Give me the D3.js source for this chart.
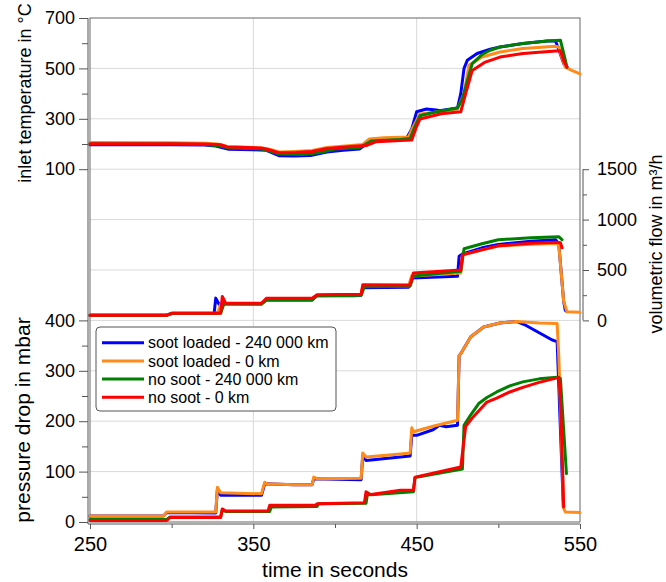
<!DOCTYPE html>
<html><head><meta charset="utf-8">
<script src="https://cdn.jsdelivr.net/npm/d3@7"></script>
<style>
html,body{margin:0;padding:0;background:#fff;}
svg{display:block;font-family:Arial,"Liberation Sans",sans-serif;}
</style></head>
<body><svg id="c" width="666" height="582"></svg>
<script>
// ---------------- data ----------------
const seriesNames = ["soot loaded - 240 000 km", "soot loaded - 0 km", "no soot - 240 000 km", "no soot - 0 km"];
const xTicksMajor = [250, 350, 450, 550];
const xTicksMinor = [300, 400, 500];
const tempTicksMajor = [100, 300, 500, 700];
const tempTicksMinor = [200, 400, 600];
const flowTicksMajor = [0, 500, 1000, 1500];
const flowTicksMinor = [250, 750, 1250];
const presTicksMajor = [0, 100, 200, 300, 400];
const presTicksMinor = [50, 150, 250, 350];

// inlet temperature [time s, °C]
const tempSoot240 = [[250,197],[300,197],[320,196],[327,192],[335,179],[350,177],[358,175],[366,153],[375,152],[385,154],[395,168],[405,175],[415,180],[419,200],[421,212],[430,220],[444,225],[447,260],[450,328],[456,339],[462,335],[464,332],[475,343],[477,400],[479,500],[481,532],[487,559],[495,576],[501,585],[515,599],[530,609],[535,609],[537,575],[540,519],[542,505]];
const tempSoot0 = [[250,206],[300,205],[320,203],[328,200],[334,190],[350,186],[358,182],[366,168],[375,170],[386,174],[395,186],[410,194],[417,198],[421,220],[430,225],[445,228],[448,270],[452,319],[460,325],[475,339],[479,400],[482,512],[490,545],[501,565],[515,579],[535,588],[537,585],[539,540],[541,505],[545,492],[550,478]];
const tempNoSoot240 = [[250,200],[300,200],[320,198],[329,193],[335,184],[355,180],[360,172],[366,160],[380,158],[390,165],[400,180],[415,186],[419,200],[422,212],[440,218],[446,222],[449,270],[452,312],[460,325],[475,343],[478,380],[481,450],[484,519],[490,555],[495,572],[501,585],[515,599],[530,609],[538,612],[540,560],[542,505]];
const tempNoSoot0 = [[250,201],[300,201],[320,200],[330,197],[334,188],[355,184],[360,176],[366,165],[376,166],[386,170],[395,182],[410,190],[419,194],[425,209],[440,214],[447,216],[450,270],[452,299],[465,320],[477,328],[480,400],[484,492],[492,525],[501,545],[515,559],[535,569],[538,570],[540,530],[542,505]];

// volumetric flow [time s, m³/h]
const flowSoot240 = [[250,50],[296,50],[300,68],[326,70],[327,221],[329,160],[355,160],[358,205],[386,205],[389,245],[412,245],[416,250],[417,325],[445,330],[447,420],[475,437],[476,637],[478,660],[490,720],[500,754],[520,785],[535,800],[537,760],[540,187],[541,100],[542,87]];
const flowSoot0 = [[250,50],[296,50],[300,70],[328,70],[330,160],[355,162],[358,210],[386,210],[389,250],[416,255],[417,340],[445,342],[447,444],[448,440],[477,470],[478,650],[490,700],[500,737],[520,755],[535,764],[537,750],[540,190],[542,87],[550,80]];
const flowNoSoot240 = [[250,50],[297,50],[300,70],[330,70],[332,165],[355,165],[358,200],[386,200],[389,245],[416,250],[418,335],[446,340],[448,440],[477,487],[479,711],[490,760],[500,800],[520,820],[537,831],[539,800]];
const flowNoSoot0 = [[250,50],[297,50],[300,70],[330,70],[331,237],[333,170],[355,170],[358,220],[386,220],[389,255],[416,260],[417,354],[446,350],[448,471],[477,500],[478,650],[490,700],[500,740],[520,765],[536,775],[538,771],[539,720]];

// pressure drop [time s, mbar]
const presSoot240 = [[250,12],[295,12],[297,19],[327,18],[328,65],[330,53],[355,53],[357,76],[375,74],[386,74],[387,86],[416,84],[417,132],[419,122],[440,129],[446,131],[447,172],[450,172],[460,183],[464,192],[468,189],[475,192],[476,330],[477,334],[483,367],[491,387],[501,395],[511,398],[517,390],[533,361],[536,358],[539.8,30]];
const presSoot0 = [[250,12],[295,12],[297,20],[327,20],[328,69],[330,58],[355,56],[357,79],[358,76],[375,74],[386,74],[387,89],[389,86],[416,87],[417,137],[419,129],[440,135],[446,137],[447,187],[448,179],[460,190],[475,202],[476,330],[477,334],[483,367],[491,387],[501,395],[511,398],[525,395],[536,394],[537,330],[540,27],[541,20],[550,19]];
const presNoSoot240 = [[250,5],[297,5],[299,10],[330,10],[331,24],[333,21],[360,21],[361,30],[389,31],[390,36],[419,37],[420,58],[422,54],[448,60],[449,88],[478,105],[479,192],[483,212],[488,235],[493,247],[499,258],[507,270],[515,278],[525,284],[536,287],[538,285],[541.7,96]];
const presNoSoot0 = [[250,3],[297,3],[299,9],[330,9],[331,26],[333,22],[359,22],[360,33],[388,33],[389,36],[418,38],[419,60],[421,54],[440,63],[448,63],[449,89],[477,109],[480,190],[485,210],[493,238],[499,246],[507,258],[515,267],[525,277],[536,286],[537,287],[538,250],[540,30]];

const tempData = [tempSoot240, tempSoot0, tempNoSoot240, tempNoSoot0];
const flowData = [flowSoot240, flowSoot0, flowNoSoot240, flowNoSoot0];
const presData = [presSoot240, presSoot0, presNoSoot240, presNoSoot0];

// ---------------- drawing ----------------
const colors = ["#0000ff", "#ff8c1a", "#008000", "#ff0000"];
const L = 90, R = 580, T = 18, B = 522;
const svg = d3.select("#c");

const x = d3.scaleLinear().domain([250, 550]).range([L, R]);
const yT = d3.scaleLinear().domain([-1300, 700]).range([B, T]);
const yF = d3.scaleLinear().domain([-2000, 3000]).range([B, T]);
const yP = d3.scaleLinear().domain([0, 1000]).range([B, T]);

// grid
const grid = svg.append("g").attr("stroke", "#d9d9d9").attr("stroke-width", 1);
d3.range(100, 1000, 100).forEach(v => {
  grid.append("line").attr("x1", L).attr("x2", R).attr("y1", yP(v)).attr("y2", yP(v));
});
[350, 450].forEach(v => {
  grid.append("line").attr("x1", x(v)).attr("x2", x(v)).attr("y1", T).attr("y2", B);
});

// frame
svg.append("rect").attr("x", L).attr("y", T).attr("width", R - L).attr("height", B - T)
  .attr("fill", "none").attr("stroke", "#666").attr("stroke-width", 1);

// lines
const mkLine = ys => d3.line().x(d => x(d[0])).y(d => ys(d[1]));
const plot = svg.append("g").attr("fill", "none").attr("stroke-width", 3)
  .attr("stroke-linejoin", "round").attr("stroke-linecap", "round");
[[tempData, yT], [flowData, yF], [presData, yP]].forEach(([data, ys]) => {
  data.forEach((s, i) => {
    plot.append("path").attr("d", mkLine(ys)(s)).attr("stroke", colors[i]);
  });
});

// axes
function styleAxis(g) {
  g.selectAll("path.domain").remove();
  g.selectAll("line").attr("stroke", "#555");
  g.selectAll("text").attr("fill", "#000");
}
svg.append("line").attr("x1", 88).attr("x2", 88).attr("y1", T).attr("y2", B + 2).attr("stroke", "#555");
svg.append("g").attr("transform", "translate(88,0)")
  .call(d3.axisLeft(yT).tickValues(tempTicksMajor).tickSize(9).tickPadding(4).tickFormat(d3.format("d")))
  .call(styleAxis).attr("font-size", 18).attr("font-family", null);
svg.append("g").attr("transform", "translate(88,0)")
  .call(d3.axisLeft(yT).tickValues(tempTicksMinor).tickSize(6).tickFormat(""))
  .call(styleAxis);
svg.append("g").attr("transform", "translate(88,0)")
  .call(d3.axisLeft(yP).tickValues(presTicksMajor).tickSize(9).tickPadding(4).tickFormat(d3.format("d")))
  .call(styleAxis).attr("font-size", 18).attr("font-family", null);
svg.append("g").attr("transform", "translate(88,0)")
  .call(d3.axisLeft(yP).tickValues(presTicksMinor).tickSize(6).tickFormat(""))
  .call(styleAxis);
svg.append("line").attr("x1", 583).attr("x2", 583).attr("y1", yF(1500)).attr("y2", yF(0)).attr("stroke", "#555");
svg.append("g").attr("transform", "translate(583,0)")
  .call(d3.axisRight(yF).tickValues(flowTicksMajor).tickSize(6).tickPadding(8).tickFormat(d3.format("d")))
  .call(styleAxis).attr("font-size", 18).attr("font-family", null);
svg.append("g").attr("transform", "translate(583,0)")
  .call(d3.axisRight(yF).tickValues(flowTicksMinor).tickSize(4).tickFormat(""))
  .call(styleAxis);
svg.append("line").attr("x1", 88).attr("x2", R).attr("y1", 524).attr("y2", 524).attr("stroke", "#555");
svg.append("g").attr("transform", "translate(0,524)")
  .call(d3.axisBottom(x).tickValues(xTicksMajor).tickSize(5).tickPadding(8).tickFormat(d3.format("d")))
  .call(styleAxis).attr("font-size", 20).attr("font-family", null);
svg.append("g").attr("transform", "translate(0,524)")
  .call(d3.axisBottom(x).tickValues(xTicksMinor).tickSize(4).tickFormat(""))
  .call(styleAxis);

// titles
svg.append("text").attr("x", 335).attr("y", 577).attr("text-anchor", "middle")
  .attr("font-size", 21).text("time in seconds");
svg.append("text").attr("transform", "translate(31,93) rotate(-90)").attr("text-anchor", "middle")
  .attr("font-size", 18).text("inlet temperature in °C");
svg.append("text").attr("transform", "translate(30,420) rotate(-90)").attr("text-anchor", "middle")
  .attr("font-size", 21).text("pressure drop in mbar");
svg.append("text").attr("transform", "translate(662,244) rotate(-90)").attr("text-anchor", "middle")
  .attr("font-size", 18).text("volumetric flow in m³/h");

// legend
const lg = svg.append("g");
lg.append("rect").attr("x", 96).attr("y", 327).attr("width", 240).attr("height", 84)
  .attr("rx", 4).attr("fill", "#fff").attr("stroke", "#555").attr("stroke-width", 1);
seriesNames.forEach((n, i) => {
  const yy = 342.7 + i * 18.2;
  lg.append("line").attr("x1", 102).attr("x2", 144).attr("y1", yy).attr("y2", yy)
    .attr("stroke", colors[i]).attr("stroke-width", 3);
  lg.append("text").attr("x", 148).attr("y", yy).attr("dy", "0.35em")
    .attr("font-size", 16).text(n);
});
</script></body></html>
